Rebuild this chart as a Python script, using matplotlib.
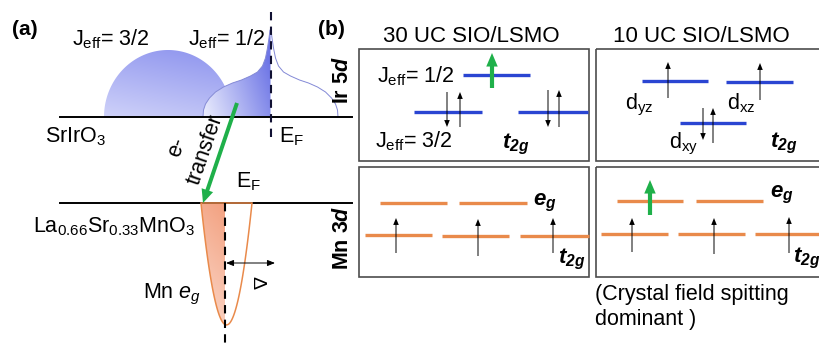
import numpy as np
import matplotlib
matplotlib.use('Agg')
import matplotlib.pyplot as plt
from matplotlib.patches import Polygon, Rectangle, FancyArrowPatch
from matplotlib.colors import to_rgb

plt.rcParams['font.family'] = ['Liberation Sans', 'DejaVu Sans']
plt.rcParams['mathtext.fontset'] = 'custom'
plt.rcParams['mathtext.rm'] = 'Liberation Sans'
plt.rcParams['mathtext.it'] = 'Liberation Sans:italic'
plt.rcParams['mathtext.bf'] = 'Liberation Sans:bold'
try:
    plt.rcParams['mathtext.bfit'] = 'Liberation Sans:bold:italic'
    T2G = r'$\mathbfit{t}_{\mathbfit{2g}}$'
    EG = r'$\mathbfit{e}_{\mathbfit{g}}$'
    DIT = r'$\mathbfit{d}$'
except KeyError:
    T2G = r'$\mathbf{t}_{\mathbf{2g}}$'
    EG = r'$\mathbf{e}_{\mathbf{g}}$'
    DIT = r'$\mathbf{d}$'

# ---------------- data (reference pixel units) ----------------
# panel (a) density-of-states sketch
sio_base_y = 117
lsmo_base_y = 203
baseline_x = [60, 352]
ef_sio_x = 271
ef_lsmo_x = 225

jeff32_center, jeff32_rx, jeff32_ry = 168, 64, 67
jeff12_center = 270.5
jeff12_half_dx = [67.5, 67, 65, 61, 55, 47, 38, 29, 20, 13, 8, 5, 3, 1.5, 0.5]
jeff12_half_y = [117, 110, 104, 98, 92, 87, 83, 80, 76, 72, 66, 58, 48, 38, 30]

mn_eg_center, mn_eg_halfwidth, mn_eg_bottom = 226.5, 25.5, 325

transfer_tail = (237, 103)
transfer_tip = (203, 203)

# panel (b) boxes: (x0, y0, x1, y1)
box_x0 = [359, 596, 359, 596]
box_x1 = [589, 830, 589, 830]
box_y0 = [49, 49, 167, 167]
box_y1 = [161, 161, 277, 277]

# level lines: x_start, x_end, y
ir30_x0, ir30_x1, ir30_y = [463, 414, 518], [530, 482, 588], [75, 112, 112]
ir10_x0, ir10_x1, ir10_y = [642, 726, 680], [708, 793, 746], [81, 82, 123]
mn30_eg_x0, mn30_eg_x1, mn30_eg_y = [380, 459], [447, 527], [203, 203]
mn30_t_x0, mn30_t_x1, mn30_t_y = [365, 442, 520], [432, 509, 589], [235, 236, 236]
mn10_eg_x0, mn10_eg_x1, mn10_eg_y = [617, 696], [683, 763], [201, 201]
mn10_t_x0, mn10_t_x1, mn10_t_y = [601, 678, 755], [668, 745, 830], [234, 234, 234]

# spin arrows: x, y_tail, y_tip
ir30_spin_x, ir30_spin_y0, ir30_spin_y1 = [447, 460, 548, 559], [92, 127, 90, 127], [127, 92, 127, 90]
ir10_spin_x, ir10_spin_y0, ir10_spin_y1 = [668, 760, 703, 713], [98, 100, 108, 143], [62, 63, 140, 108]
mn30_spin_x, mn30_spin_y0, mn30_spin_y1 = [396, 478, 553], [253, 256, 253], [218, 219, 218]
mn10_spin_x, mn10_spin_y0, mn10_spin_y1 = [632, 714, 789], [252, 254, 253], [218, 218, 217]
green_spin_x, green_spin_y0, green_spin_y1 = [492, 650], [88, 215], [53, 180]

BLUE = '#2a45d2'
ORANGE = '#e98a4b'
GREEN = '#1fb04a'
BOXC = '#4d4d4d'

fig = plt.figure(figsize=(8.19, 3.47), dpi=100)
ax = fig.add_axes([0, 0, 1, 1])
ax.set_axis_off()


def gradient(ax, patch, ext, c0, c1, wu, wv, z):
    x0, x1, y0, y1 = ext
    n = 200
    u = np.linspace(0, 1, n)[None, :].repeat(n, 0)
    v = np.linspace(1, 0, n)[:, None].repeat(n, 1)  # row 0 = top -> v=1
    t = np.clip(wu * u + wv * v, 0, 1)
    c0 = np.array(to_rgb(c0)); c1 = np.array(to_rgb(c1))
    img = (1 - t)[..., None] * c0 + t[..., None] * c1
    im = ax.imshow(img, extent=(x0, x1, y1, y0), origin='upper', aspect='auto',
                   interpolation='bilinear', zorder=z)
    im.set_clip_path(patch)


# ---- J_eff 3/2 dome
th = np.linspace(0, np.pi, 200)
dome = np.column_stack([jeff32_center - jeff32_rx * np.cos(th), sio_base_y - jeff32_ry * np.sin(th)])
dome_p = Polygon(dome, closed=True, facecolor='none', edgecolor='none', zorder=1)
ax.add_patch(dome_p)
gradient(ax, dome_p, (jeff32_center - jeff32_rx, jeff32_center + jeff32_rx,
                      sio_base_y - jeff32_ry, sio_base_y), '#cfd2f9', '#9298ef', 0.3, 0.8, 1)

# ---- J_eff 1/2 band
hdx = np.array(jeff12_half_dx); hy = np.array(jeff12_half_y)
left = np.column_stack([jeff12_center - hdx, hy])
right = np.column_stack([jeff12_center + hdx[::-1], hy[::-1]])
left_fill = np.vstack([left, [[jeff12_center, hy[-1]], [jeff12_center, sio_base_y]]])
lp = Polygon(left_fill, closed=True, facecolor='white', edgecolor='none', zorder=2)
ax.add_patch(lp)
gradient(ax, lp, (jeff12_center - hdx[0], jeff12_center, hy[-1], sio_base_y),
         '#eceefd', '#6e76e6', 0.8, 0.35, 2.1)
outline = np.vstack([left, right])
ax.plot(outline[:, 0], outline[:, 1], color='#8389d6', lw=0.7, zorder=3)

# ---- Mn eg band
yy = np.linspace(lsmo_base_y, mn_eg_bottom, 200)
hw = mn_eg_halfwidth * np.sqrt((mn_eg_bottom - yy) / (mn_eg_bottom - lsmo_base_y))
lx = mn_eg_center - hw
fill_pts = np.vstack([np.column_stack([lx, yy]),
                      [[ef_lsmo_x, mn_eg_bottom], [ef_lsmo_x, lsmo_base_y]]])
mp = Polygon(fill_pts, closed=True, facecolor='none', edgecolor='none', zorder=2)
ax.add_patch(mp)
gradient(ax, mp, (mn_eg_center - mn_eg_halfwidth, ef_lsmo_x, lsmo_base_y, mn_eg_bottom),
         '#fbd9cb', '#f3a383', 0.2, 0.85, 2.1)
par = np.vstack([np.column_stack([mn_eg_center - hw, yy]),
                 np.column_stack([mn_eg_center + hw[::-1], yy[::-1]])])
ax.add_patch(Polygon(par, closed=True, facecolor='none', edgecolor=ORANGE, lw=1.1, zorder=6))

# ---- baselines and Fermi levels
ax.plot(baseline_x, [sio_base_y] * 2, color='k', lw=1.4, zorder=4)
ax.plot(baseline_x, [lsmo_base_y] * 2, color='k', lw=1.4, zorder=4)
ax.plot([ef_sio_x] * 2, [12, 140], color='#111133', lw=1.5, ls=(0, (4, 3)), zorder=5)
ax.plot([ef_lsmo_x] * 2, [lsmo_base_y, 346], color='k', lw=1.5, ls=(0, (4, 3)), zorder=7)


def arrow(p0, p1, color='k', ms=10, tw=0.07, hw=0.38, hl=0.42, z=8):
    a = FancyArrowPatch(p0, p1, arrowstyle=f'simple,head_length={hl},head_width={hw},tail_width={tw}',
                        mutation_scale=ms, color=color, lw=0, shrinkA=0, shrinkB=0, zorder=z)
    ax.add_patch(a)


arrow(transfer_tail, transfer_tip, color=GREEN, ms=15, tw=0.19, hw=0.58, hl=0.65)
ax.annotate('', xy=(275, 263), xytext=(226, 263),
            arrowprops=dict(arrowstyle='<|-|>,head_length=0.45,head_width=0.18', color='k', lw=0.7,
                            shrinkA=0, shrinkB=0, mutation_scale=10), zorder=8)

# ---- panel (a) text
FS = 15.5
ax.text(12, 35, '(a)', fontsize=15, fontweight='bold', va='baseline')
ax.text(72, 45, r'J$_{\rm eff}$= 3/2', fontsize=FS, va='baseline')
ax.text(188, 45, r'J$_{\rm eff}$= 1/2', fontsize=FS, va='baseline')
ax.text(45, 142, r'SrIrO$_3$', fontsize=FS, va='baseline')
ax.text(279, 142, r'E$_{\rm F}$', fontsize=FS, va='baseline')
ax.text(236, 187, r'E$_{\rm F}$', fontsize=FS, va='baseline')
ax.text(33, 232, r'La$_{0.66}$Sr$_{0.33}$MnO$_3$', fontsize=FS, va='baseline')
ax.text(143, 298, r'Mn $e_g$', fontsize=FS, va='baseline')
ax.text(257, 283, 'Δ', fontsize=14, rotation=-90, ha='center', va='center', rotation_mode='anchor')
ax.text(205, 150, 'transfer', fontsize=15.5, rotation=71, ha='center', va='center', rotation_mode='anchor')
ax.text(177, 147, 'e-', fontsize=15.5, rotation=71, ha='center', va='center', rotation_mode='anchor')

# ---- panel (b)
ax.text(318, 35, '(b)', fontsize=15, fontweight='bold', va='baseline')
ax.text(471, 42, '30 UC SIO/LSMO', fontsize=16, ha='center', va='baseline')
ax.text(701, 42, '10 UC SIO/LSMO', fontsize=16, ha='center', va='baseline')
ax.text(343, 80, 'Ir 5' + DIT, fontsize=15.5, fontweight='bold', rotation=90, ha='center', va='center')
ax.text(343, 238, 'Mn 3' + DIT, fontsize=15.5, fontweight='bold', rotation=90, ha='center', va='center')

for x0, x1, y0, y1 in zip(box_x0, box_x1, box_y0, box_y1):
    ax.add_patch(Rectangle((x0, y0), x1 - x0, y1 - y0, facecolor='none', edgecolor=BOXC, lw=1.2, zorder=3))

for xs0, xs1, ys, col in [(ir30_x0, ir30_x1, ir30_y, BLUE), (ir10_x0, ir10_x1, ir10_y, BLUE),
                          (mn30_eg_x0, mn30_eg_x1, mn30_eg_y, ORANGE), (mn30_t_x0, mn30_t_x1, mn30_t_y, ORANGE),
                          (mn10_eg_x0, mn10_eg_x1, mn10_eg_y, ORANGE), (mn10_t_x0, mn10_t_x1, mn10_t_y, ORANGE)]:
    for a, b, y in zip(xs0, xs1, ys):
        ax.plot([a, b], [y, y], color=col, lw=2.4, solid_capstyle='butt', zorder=4)

for xs, y0s, y1s in [(ir30_spin_x, ir30_spin_y0, ir30_spin_y1), (ir10_spin_x, ir10_spin_y0, ir10_spin_y1),
                     (mn30_spin_x, mn30_spin_y0, mn30_spin_y1), (mn10_spin_x, mn10_spin_y0, mn10_spin_y1)]:
    for x, a, b in zip(xs, y0s, y1s):
        arrow((x, a), (x, b), color='k', ms=10, tw=0.07, hw=0.4, hl=0.5, z=6)

for x, a, b in zip(green_spin_x, green_spin_y0, green_spin_y1):
    arrow((x, a), (x, b), color=GREEN, ms=15, tw=0.2, hw=0.55, hl=0.65, z=7)

ax.text(377, 82, r'J$_{\rm eff}$= 1/2', fontsize=FS, va='baseline')
ax.text(375, 147, r'J$_{\rm eff}$= 3/2', fontsize=FS, va='baseline')
ax.text(502, 148, T2G, fontsize=16, va='baseline')
ax.text(625, 109, r'd$_{\rm yz}$', fontsize=FS, va='baseline')
ax.text(727, 109, r'd$_{\rm xz}$', fontsize=FS, va='baseline')
ax.text(669, 148, r'd$_{\rm xy}$', fontsize=FS, va='baseline')
ax.text(770, 147, T2G, fontsize=16, va='baseline')
ax.text(533, 205, EG, fontsize=16, va='baseline')
ax.text(558, 263, T2G, fontsize=16, va='baseline')
ax.text(770, 197, EG, fontsize=16, va='baseline')
ax.text(793, 262, T2G, fontsize=16, va='baseline')
ax.text(595, 300, '(Crystal field spitting', fontsize=FS, va='baseline')
ax.text(595, 325, 'dominant )', fontsize=FS, va='baseline')

ax.set_xlim(0, 819)
ax.set_ylim(347, 0)
ax.set_aspect('auto')
fig.savefig('out.png', dpi=100)
